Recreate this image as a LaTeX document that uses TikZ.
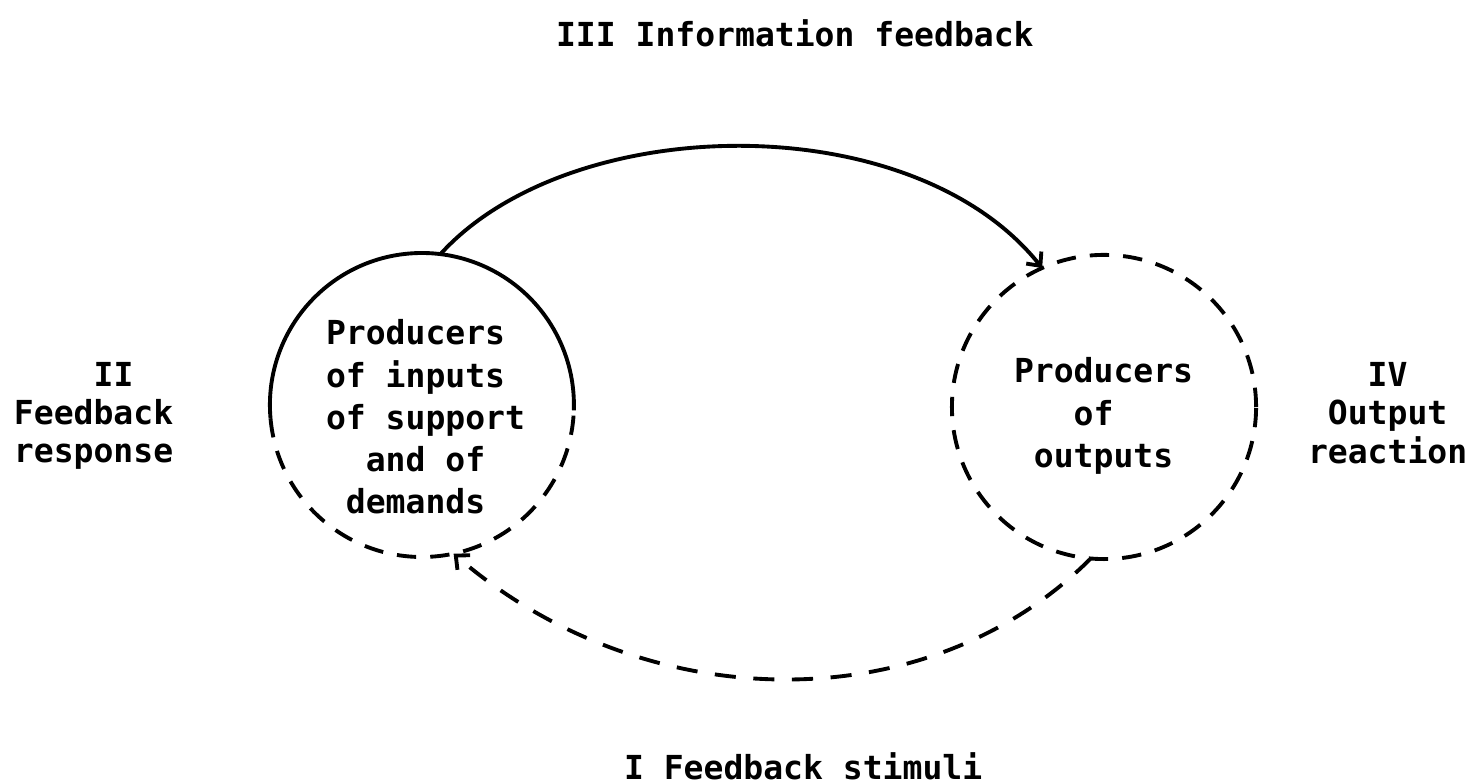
\documentclass[tikz,border=0pt]{standalone}
\usepackage{fontspec}
\setmonofont{DejaVu Sans Mono}
\usetikzlibrary{arrows.meta}

\begin{document}
\begin{tikzpicture}[x=0.01cm, y=0.01cm,
  every node/.style={inner sep=0pt, outer sep=0pt, font=\ttfamily\bfseries\fontsize{9.4pt}{10.8pt}\selectfont},
  ring/.style={circle, minimum size=3.04cm},
  solidline/.style={line width=1.1pt},
  ringdash/.style={line width=1.1pt, dash pattern=on 5.5pt off 4pt},
  loopdash/.style={line width=1.1pt, dash pattern=on 6pt off 5pt},
  tip/.style={-{Straight Barb[length=3pt,width=5.5pt]}},
  lines/.style={anchor=base west},
  inner/.style={lines, font=\ttfamily\bfseries\fontsize{9.4pt}{11.95pt}\selectfont}
]
\useasboundingbox (0,0) rectangle (1482,783);

% the two producer circles
\node[ring] (L) at (422,378) {};
\node[ring, draw, ringdash] (R) at (1104,376) {};
\draw[solidline] (L.185) arc[start angle=185, end angle=-2, radius=152];
\draw[ringdash] (L.185) arc[start angle=185, end angle=358, radius=152];

% texts inside the circles
\node[inner] (Ltext) at (326,438) {\begin{tabular}[t]{@{}l@{}}
Producers\\
of inputs\\
of support\\
\phantom{aa}and of\\
\phantom{a}demands
\end{tabular}};
\node[inner] (Rtext) at (1014,400) {\begin{tabular}[t]{@{}l@{}}
Producers\\
\phantom{aaa}of\\
\phantom{a}outputs
\end{tabular}};

% feedback loop
\draw[solidline, tip] (L.83) .. controls +(130,143) and +(-130,163) .. (R.114);
\draw[loopdash, tip] (R.265) .. controls +(-164,-164) and +(190,-164) .. (L.282);

% phase labels
\node[lines] (top) at (556,736) {III Information feedback};
\node[lines] (bottom) at (624,3) {I Feedback stimuli};
\node[lines] (left) at (14,396) {\begin{tabular}[t]{@{}l@{}}
\phantom{aaaa}II\\
Feedback\\
response
\end{tabular}};
\node[lines] (right) at (1308,396) {\begin{tabular}[t]{@{}l@{}}
\phantom{aaa}IV\\
\phantom{a}Output\\
reaction
\end{tabular}};
\end{tikzpicture}
\end{document}
